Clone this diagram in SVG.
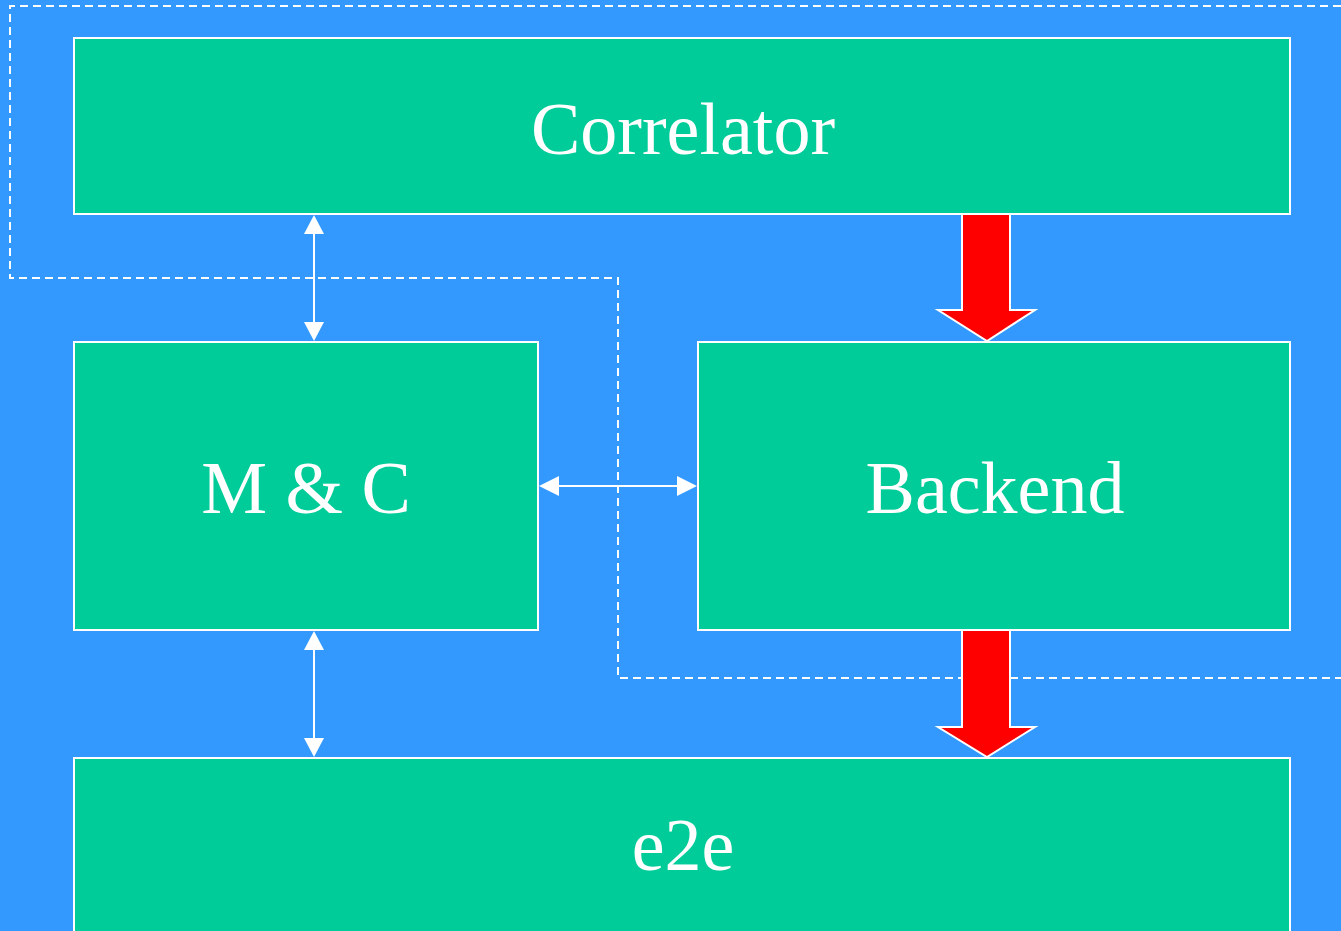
<svg xmlns="http://www.w3.org/2000/svg" width="1341" height="931" viewBox="0 0 1341 931">
<defs>
<style>
.box{fill:#00CC99;stroke:#FFFFFF;stroke-width:2}
.lbl{font-family:"Liberation Serif","Times New Roman",serif;font-size:74px;fill:#FFFFFF;text-anchor:middle}
.dash{fill:none;stroke:#FFFFFF;stroke-width:2;stroke-dasharray:8,5}
.link{stroke:#FFFFFF;stroke-width:2;fill:none}
.big{fill:#FF0000;stroke:#FFFFFF;stroke-width:2}
.head{fill:#FFFFFF}
</style>
</defs>
<rect width="1341" height="931" fill="#3399FF"/>
<path class="dash" d="M1341,6 H10 V278 H618 V678 H1341"/>
<g id="correlator"><rect class="box" x="74" y="38" width="1216" height="176"/><text class="lbl" x="683" y="154">Correlator</text></g>
<g id="mc"><rect class="box" x="74" y="342" width="464" height="288"/><text class="lbl" x="306" y="513">M &amp; C</text></g>
<g id="backend"><rect class="box" x="698" y="342" width="592" height="288"/><text class="lbl" x="995" y="513">Backend</text></g>
<g id="e2e"><rect class="box" x="74" y="758" width="1216" height="200"/><text class="lbl" x="683" y="870">e2e</text></g>
<g id="connectors">
<line class="link" x1="314" y1="232" x2="314" y2="324"/>
<polygon class="head" points="314,215 304,234 324,234"/>
<polygon class="head" points="314,341 304,322 324,322"/>
<line class="link" x1="314" y1="648" x2="314" y2="740"/>
<polygon class="head" points="314,631 304,650 324,650"/>
<polygon class="head" points="314,757 304,738 324,738"/>
<line class="link" x1="556" y1="486" x2="680" y2="486"/>
<polygon class="head" points="539,486 559,476 559,496"/>
<polygon class="head" points="697,486 677,476 677,496"/>
<polygon class="big" points="962,214 1010,214 1010,310 1035,310 987,341 938,310 962,310"/>
<polygon class="big" points="962,630 1010,630 1010,727 1035,727 987,757 938,727 962,727"/>
</g>
</svg>
